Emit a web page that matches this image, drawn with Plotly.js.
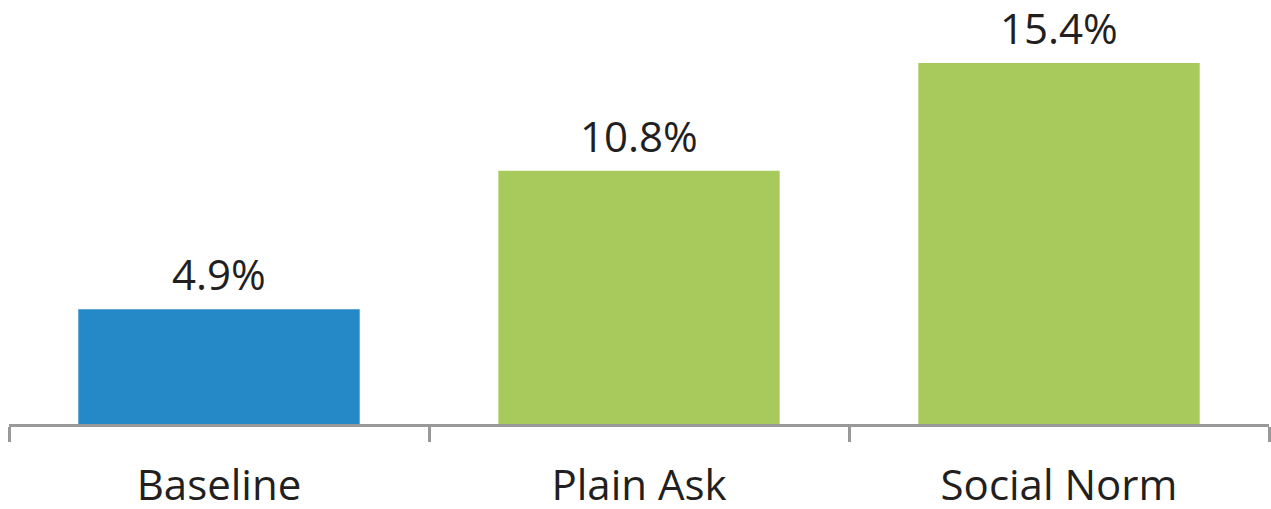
<!DOCTYPE html>
<html>
<head>
<meta charset="utf-8">
<script src="https://cdn.plot.ly/plotly-3.0.1.min.js"></script>
<style>html,body{margin:0;padding:0;background:#fff;}#chart{width:1271px;height:509px;}</style>
</head>
<body>
<div id="chart"></div>
<script>
const categories = ["Baseline", "Plain Ask", "Social Norm"];
const values = [4.9, 10.8, 15.4];
const barColors = ["#2589C8", "#A8CA5C", "#A8CA5C"];
const valueLabels = values.map(v => v.toFixed(1) + "%");

const trace = {
  type: "bar",
  x: categories,
  y: values,
  marker: {color: barColors, line: {width: 0}},
  hoverinfo: "none",
  cliponaxis: false
};

const annotations = categories.map((c, i) => ({
  x: c, y: values[i], xref: "x", yref: "y",
  text: valueLabels[i], showarrow: false,
  yanchor: "bottom", yshift: 5,
  font: {family: "Open Sans", size: 42, color: "#231F20"}
}));

const layout = {
  width: 1271, height: 509,
  margin: {l: 9, r: 2, t: 0, b: 85},
  paper_bgcolor: "#ffffff", plot_bgcolor: "#ffffff",
  showlegend: false,
  bargap: 0.33,
  xaxis: {
    type: "category",
    range: [-0.5, 2.5],
    showline: true, linecolor: "#999999", linewidth: 3,
    ticks: "outside", tickson: "boundaries", ticklen: 15, tickwidth: 3, tickcolor: "#999999",
    showgrid: false, zeroline: false,
    tickfont: {family: "Open Sans", size: 42, color: "#231F20"},
    ticklabelstandoff: 23
  },
  yaxis: {
    range: [0, 18.09],
    visible: false, showgrid: false, zeroline: false
  },
  annotations: annotations
};

Plotly.newPlot("chart", [trace], layout, {staticPlot: true, displayModeBar: false});
</script>
</body>
</html>
